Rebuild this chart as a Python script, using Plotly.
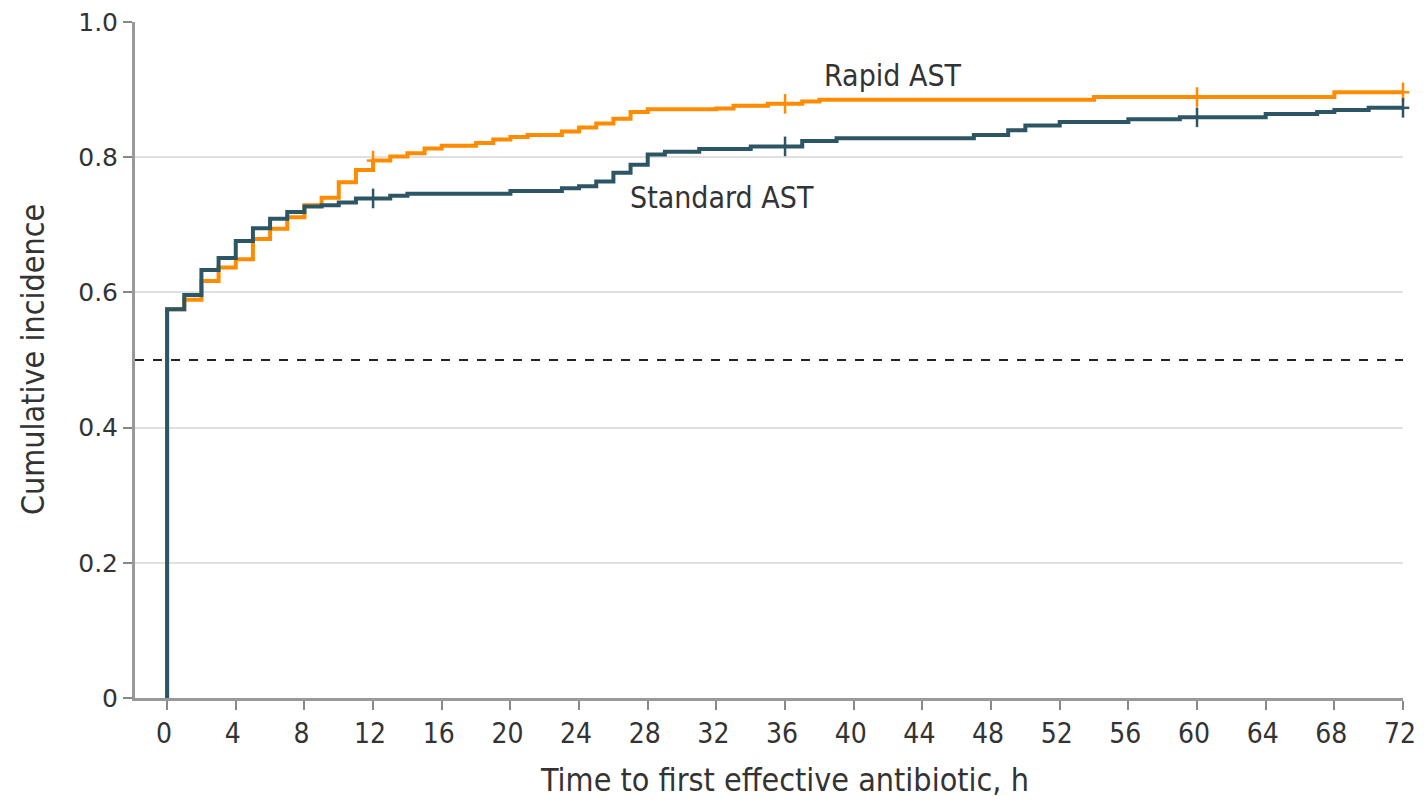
import numpy as np
import plotly.graph_objects as go

# Step data (time in hours, cumulative incidence after the step)
rapid_t = [0, 0, 1, 2, 3, 4, 5, 6, 7, 8, 9, 10, 11, 12, 13, 14, 15, 16, 18, 19, 20, 21, 23, 24, 25, 26, 27, 28, 32, 33, 35, 37, 38, 54, 68, 72]
rapid_y = [0, 0.575, 0.589, 0.617, 0.637, 0.649, 0.679, 0.694, 0.711, 0.729, 0.740, 0.763, 0.781, 0.795, 0.801, 0.806, 0.813, 0.817, 0.821, 0.826, 0.830, 0.833, 0.838, 0.844, 0.850, 0.857, 0.867, 0.871, 0.872, 0.876, 0.879, 0.8825, 0.885, 0.889, 0.896, 0.896]

standard_t = [0, 0, 1, 2, 3, 4, 5, 6, 7, 8, 9, 10, 11, 13, 14, 20, 23, 24, 25, 26, 27, 28, 29, 31, 34, 37, 39, 47, 49, 50, 52, 56, 59, 64, 67, 68, 70, 72]
standard_y = [0, 0.575, 0.596, 0.633, 0.651, 0.676, 0.695, 0.709, 0.719, 0.727, 0.729, 0.733, 0.739, 0.743, 0.746, 0.750, 0.754, 0.757, 0.764, 0.777, 0.789, 0.804, 0.808, 0.812, 0.816, 0.824, 0.828, 0.833, 0.840, 0.847, 0.852, 0.856, 0.859, 0.864, 0.867, 0.870, 0.873, 0.873]

censor_t = [12, 36, 60, 72]

x_ticks = list(range(0, 73, 4))
y_ticks = [0, 0.2, 0.4, 0.6, 0.8, 1.0]
y_tick_labels = ["0", "0.2", "0.4", "0.6", "0.8", "1.0"]

ORANGE = "#FF8C00"
TEAL = "#2C5664"
NARROW = "DejaVu Sans Condensed, Roboto, sans-serif"


def step_value(ts, ys, t):
    idx = np.searchsorted(np.array(ts), t, side="right") - 1
    return ys[idx]


fig = go.Figure()

for name, ts, ys, col in [("Rapid AST", rapid_t, rapid_y, ORANGE),
                          ("Standard AST", standard_t, standard_y, TEAL)]:
    fig.add_trace(go.Scatter(x=ts, y=ys, mode="lines", line=dict(color=col, width=4, shape="hv"),
                             name=name, showlegend=False, cliponaxis=False))
    cy = [step_value(ts, ys, c) for c in censor_t]
    fig.add_trace(go.Scatter(x=censor_t, y=cy, mode="markers",
                             marker=dict(symbol="line-ns", size=14, line=dict(color=col, width=2.5)),
                             showlegend=False, cliponaxis=False))
    fig.add_trace(go.Scatter(x=censor_t, y=cy, mode="markers",
                             marker=dict(symbol="line-ew", size=9, line=dict(color=col, width=2.5)),
                             showlegend=False, cliponaxis=False))

fig.add_shape(type="line", xref="paper", yref="y", x0=0, x1=1, y0=0.5, y1=0.5,
              line=dict(color="#222", width=2, dash="dash"), layer="below")

fig.add_annotation(x=42.3, y=0.921, text="Rapid AST", showarrow=False, xanchor="center", yanchor="middle",
                   font=dict(family=NARROW, size=30, color="#333"))
fig.add_annotation(x=32.3, y=0.740, text="Standard AST", showarrow=False, xanchor="center", yanchor="middle",
                   font=dict(family=NARROW, size=30, color="#333"))
fig.add_annotation(xref="paper", yref="paper", x=0.5126, y=-0.121,
                   text="Time to first effective antibiotic, h", showarrow=False,
                   xanchor="center", yanchor="middle", font=dict(family=NARROW, size=32, color="#333"))
fig.add_annotation(xref="paper", yref="paper", x=-0.0804, y=0.5, textangle=-90,
                   text="Cumulative incidence", showarrow=False,
                   xanchor="center", yanchor="middle", font=dict(family=NARROW, size=32, color="#333"))

fig.update_layout(
    width=1410, height=790,
    margin=dict(l=127, r=15, t=14, b=100),
    plot_bgcolor="white", paper_bgcolor="white",
    xaxis=dict(range=[-1.87, 72], tickvals=x_ticks, ticks="outside", ticklen=9, tickwidth=2,
               tickcolor="#888", showline=True, linecolor="#999", linewidth=2.5, showgrid=False,
               zeroline=False, ticklabeloverflow="allow", automargin=False, ticklabelshift=-3,
               tickfont=dict(family=NARROW, size=28, color="#333")),
    yaxis=dict(range=[0, 1.0], tickvals=y_ticks, ticktext=y_tick_labels, ticks="outside", ticklen=9,
               tickwidth=2, tickcolor="#888", showline=True, linecolor="#999", linewidth=3,
               showgrid=True, gridcolor="#e0e0e0", gridwidth=1.5, zeroline=False,
               ticklabeloverflow="allow", automargin=False,
               tickfont=dict(family="DejaVu Sans, Verdana, sans-serif", size=25, color="#333")),
)

fig.write_html("out.html")
